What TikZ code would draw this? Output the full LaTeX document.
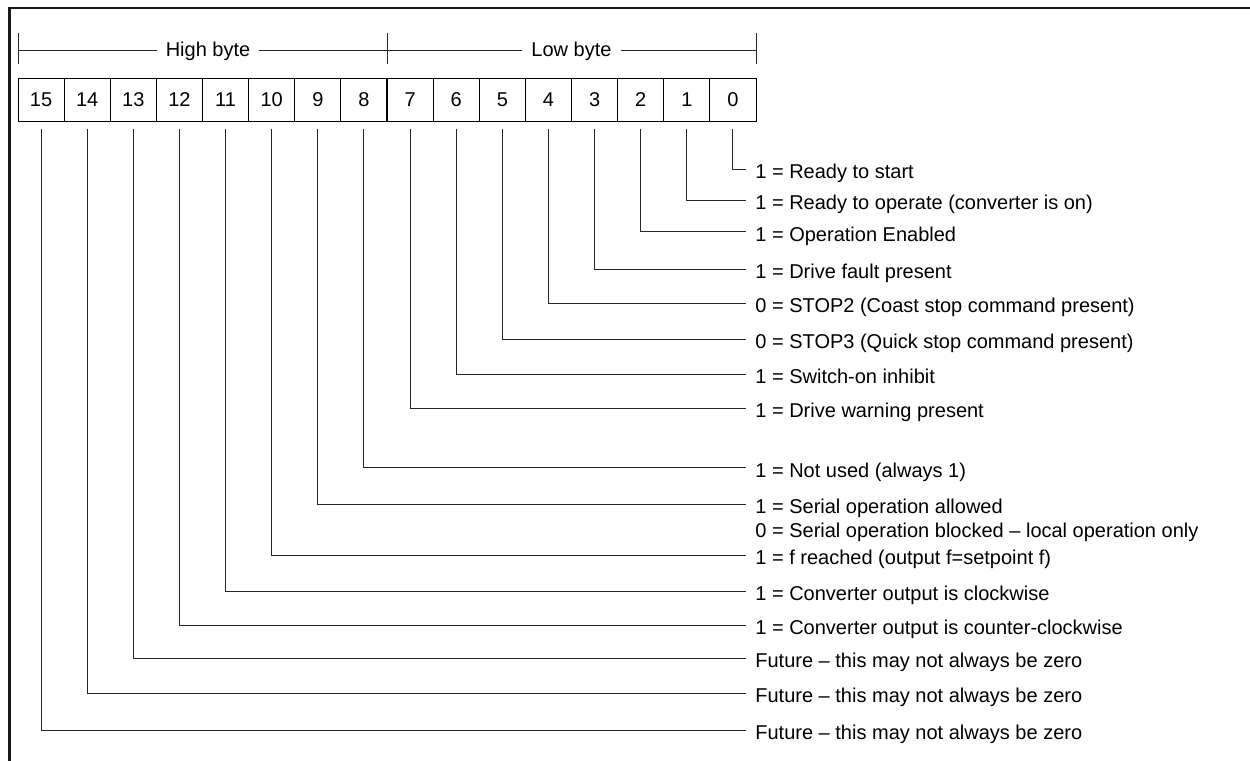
\documentclass[tikz,border=0pt]{standalone}
\usepackage{fontspec}
\setmainfont{Liberation Sans}
\begin{document}
\begin{tikzpicture}[x=0.5pt,y=-0.5pt,
  every node/.style={font=\fontsize{10}{12}\selectfont},
  cell/.style={draw, line width=0.5pt, minimum width=23.06pt, minimum height=21.5pt, inner sep=0pt},
  lbl/.style={anchor=west, inner xsep=4.5pt, inner ysep=0pt, text height=9.4pt, text depth=0pt},
  lead/.style={line width=0.5pt, black!85},
  frame/.style={line width=1.25pt, black!90},
  bytelbl/.style={fill=white, anchor=base, inner xsep=4.5pt, inner ysep=1pt}
]
\useasboundingbox (0,0) rectangle (1250,761);
\draw[frame] (9.5,761) -- (9.5,8) -- (1250,8);
% byte brackets
\coordinate (hl) at (18,50);
\coordinate (hm) at (387,50);
\coordinate (hr) at (756,50);
\draw[lead] (hl) -- (hr);
\foreach \c in {hl,hm,hr} \draw[lead] (\c) ++(0,-17) -- ++(0,31);
\node[bytelbl] (hb) at (208,56.5) {High byte};
\node[bytelbl] (lb) at (571.5,56.5) {Low byte};
% bit cells
\foreach \i in {0,...,15}
  \node[cell] (b\i) at ({18+46.125*(15.5-\i)},99.5) {\i};
% labels and leaders
\foreach \i/\y/\t in {
  0/169/{1 = Ready to start},
  1/200/{1 = Ready to operate (converter is on)},
  2/231.7/{1 = Operation Enabled},
  3/269/{1 = Drive fault present},
  4/303.3/{0 = STOP2 (Coast stop command present)},
  5/339/{0 = STOP3 (Quick stop command present)},
  6/374.3/{1 = Switch-on inhibit},
  7/408.3/{1 = Drive warning present},
  8/467.7/{1 = Not used (always 1)},
  9/504.3/{1 = Serial operation allowed},
  10/555/{1 = f reached (output f=setpoint f)},
  11/591/{1 = Converter output is clockwise},
  12/625/{1 = Converter output is counter-clockwise},
  13/658.3/{Future – this may not always be zero},
  14/693.3/{Future – this may not always be zero},
  15/730/{Future – this may not always be zero}}
{
  \node[lbl] (l\i) at (746,\y) {\t};
  \draw[lead] (b\i.south) ++(0,7) |- (l\i.west);
}
\node[lbl] (l9b) at (746,527.6) {0 = Serial operation blocked – local operation only};
\end{tikzpicture}
\end{document}
